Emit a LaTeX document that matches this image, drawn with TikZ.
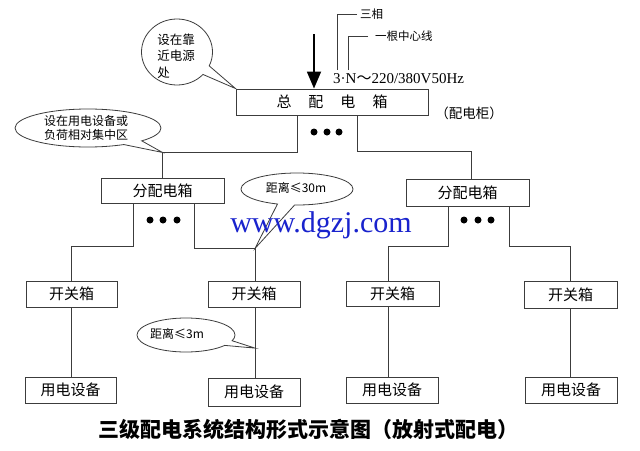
\documentclass[tikz,border=0pt]{standalone}
\usepackage{fontspec}
\setmainfont{Noto Sans CJK SC}
\newfontfamily\serifen{Liberation Serif}
\newfontfamily\cjkf{Noto Sans CJK SC}
\usetikzlibrary{shapes.callouts,arrows.meta}
\definecolor{wmblue}{RGB}{25,35,205}
\definecolor{ln}{RGB}{60,60,60}
\begin{document}
\begin{tikzpicture}[x=1pt,y=-1pt,
  bx/.style={draw=ln,line width=0.9pt,inner sep=0pt,font=\fontsize{15}{18}\selectfont},
  wire/.style={draw=ln,line width=0.9pt},
  bubble/.style={ellipse callout,draw=ln,line width=0.8pt,fill=white,inner sep=0pt,callout pointer arc=18},
  dotn/.style={circle,fill=black,inner sep=0pt,minimum size=7pt},
  lbl/.style={inner sep=0pt,font=\fontsize{12}{16}\selectfont}]
\useasboundingbox[fill=white] (0,0) rectangle (640,450);

% boxes
\node[bx,minimum width=192pt,minimum height=26pt] (zong) at (332,102) {总\hspace{17pt}配\hspace{17pt}电\hspace{17pt}箱\hspace{14pt}};
\node[bx,minimum width=123pt,minimum height=25pt] (fen1) at (162.5,190.5) {分配电箱};
\node[bx,minimum width=123pt,minimum height=27pt] (fen2) at (467.5,192.5) {分配电箱};
\node[bx,minimum width=91pt,minimum height=26pt] (k1) at (71.5,294) {开关箱};
\node[bx,minimum width=92pt,minimum height=26pt] (k2) at (254,294) {开关箱};
\node[bx,minimum width=93pt,minimum height=25pt] (k3) at (392.5,293.5) {开关箱};
\node[bx,minimum width=93pt,minimum height=27pt] (k4) at (570.5,294.5) {开关箱};
\node[bx,minimum width=91pt,minimum height=26pt] (y1) at (70.5,390) {用电设备};
\node[bx,minimum width=92pt,minimum height=28pt] (y2) at (254,392) {用电设备};
\node[bx,minimum width=92pt,minimum height=26pt] (y3) at (392,390) {用电设备};
\node[bx,minimum width=92pt,minimum height=26pt] (y4) at (571,390) {用电设备};

\node[lbl,font=\fontsize{13.5}{16}\selectfont] (gui) at (469,113) {（配电柜）};

% connectors
\draw[wire] ([xshift=-35pt]zong.south) -- ++(0,37) coordinate (j1) -| (fen1.north);
\draw[wire] ([xshift=25pt]zong.south) -- ++(0,36) -| ([xshift=4pt]fen2.north);
\draw[wire] ([xshift=-29.5pt]fen1.south) -- ++(0,43) -| (k1.north);
\draw[wire] ([xshift=31.5pt]fen1.south) -- ++(0,45) coordinate (j3) -| ([xshift=1pt]k2.north);
\draw[wire] ([xshift=-19.5pt]fen2.south) -- ++(0,40) -| ([xshift=-4.5pt]k3.north);
\draw[wire] ([xshift=41.5pt]fen2.south) -- ++(0,40) -| (k4.north);

\draw[wire] (k1.south) -- (k1.south |- y1.north);
\draw[wire] ([xshift=1pt]k2.south) -- coordinate[pos=0.58] (j4) ([xshift=1pt]k2.south |- y2.north);
\draw[wire] ([xshift=-4.5pt]k3.south) -- ([xshift=-4.5pt]k3.south |- y3.north);
\draw[wire] (k4.south) -- (k4.south |- y4.north);

% dots
\node[dotn] (d1) at (314,132) {};
\node[dotn] (d2) at (327,132) {};
\node[dotn] (d3) at (339,132) {};
\node[dotn] (d4) at (150,220) {};
\node[dotn] (d5) at (163,220) {};
\node[dotn] (d6) at (177,220) {};
\node[dotn] (d7) at (464,220) {};
\node[dotn] (d8) at (478,220) {};
\node[dotn] (d9) at (491,220) {};

% input arrow
\coordinate (atop) at (314,34);
\draw[line width=1.8pt,-{Triangle[width=14pt,length=17pt]}] (atop) -- (atop |- zong.north);

% supply labels
\node[inner sep=0pt,anchor=west,font=\serifen\fontsize{15}{17}\selectfont] (volt) at (333,79) {3·N{\cjkf ～}220/380V50Hz};
\node[lbl,anchor=west,font=\fontsize{11.5}{14}\selectfont] (sx) at (360,14) {三相};
\node[lbl,anchor=west,font=\fontsize{11.5}{14}\selectfont] (zx) at (375,36) {一根中心线};
\coordinate (c1) at (337,70);
\coordinate (c2) at (348,70);
\draw[wire,line width=0.8pt] ([xshift=-3pt]sx.west) -| (c1);
\draw[wire,line width=0.8pt] ([xshift=-7pt]zx.west) -| (c2);

% callouts
\node[bubble,minimum width=71pt,minimum height=66pt,callout absolute pointer={(zong.north west)}] (b1) at (177,52) {};
\node[lbl,align=left,font=\fontsize{12.5}{16.5}\selectfont] (b1t) at (176,56) {设在靠\\近电源\\处};

\node[bubble,minimum width=146pt,minimum height=38pt,callout absolute pointer={(fen1.north |- j1)}] (b2) at (88,128) {};
\node[lbl,align=left,font=\fontsize{12}{14.5}\selectfont] (b2t) at (86,128) {设在用电设备或\\负荷相对集中区};

\node[bubble,minimum width=112pt,minimum height=32pt,callout absolute pointer={([xshift=1pt]k2.north |- j3)}] (b3) at (297,189) {};
\node[lbl] (b3t) at (296,188) {距离≤30m};

\node[bubble,minimum width=98pt,minimum height=34pt,callout absolute pointer={(j4)}] (b4) at (186,335) {};
\node[lbl] (b4t) at (177,334) {距离≤3m};

% watermark
\node[inner sep=0pt,font=\serifen\fontsize{30}{32}\selectfont,text=wmblue] (wm) at (321,225) {www.dgzj.com};

% title
\node[inner sep=0pt,font=\bfseries\fontsize{21}{24}\selectfont] (title) at (308.5,429) {三级配电系统结构形式示意图（放射式配电）};
\end{tikzpicture}
\end{document}
